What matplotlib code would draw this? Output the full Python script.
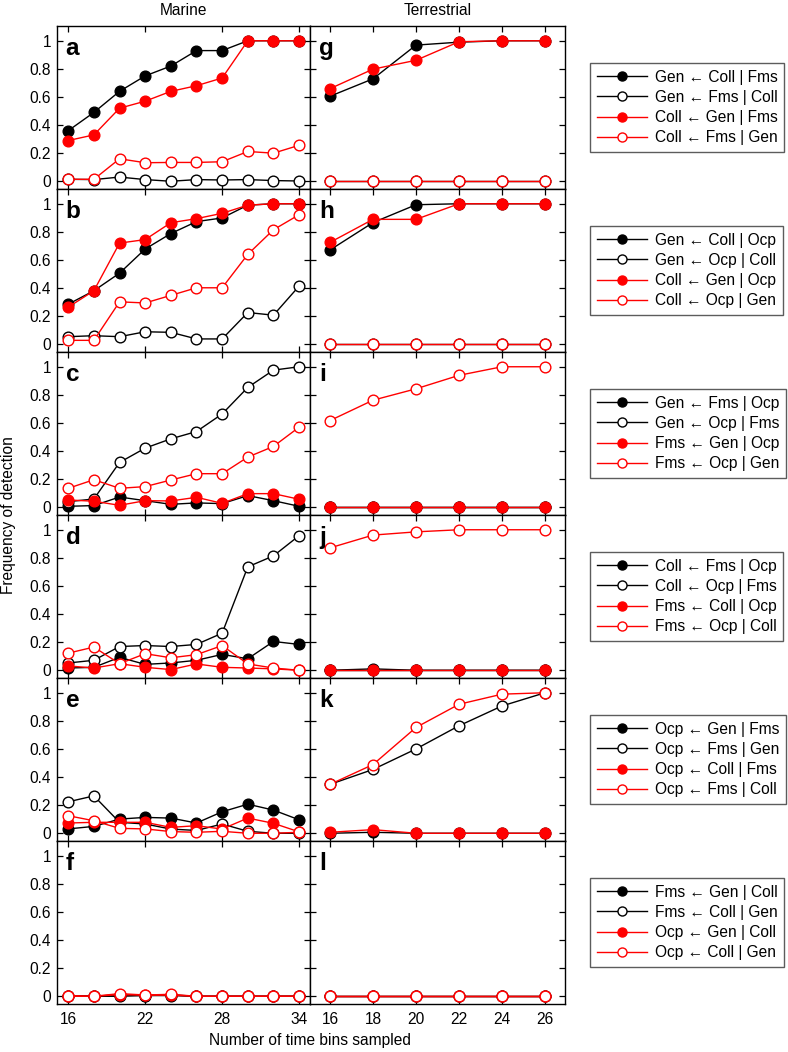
import matplotlib
matplotlib.use("Agg")
import matplotlib.pyplot as plt
from matplotlib.lines import Line2D

plt.rcParams['font.family'] = ['Liberation Sans', 'DejaVu Sans']

# ---------------- data ----------------
x_marine = [16, 18, 20, 22, 24, 26, 28, 30, 32, 34]
x_terr = [16, 18, 20, 22, 24, 26]
marine_xticks = [16, 22, 28, 34]
terr_xticks = [16, 18, 20, 22, 24, 26]
yticks = [0, 0.2, 0.4, 0.6, 0.8, 1]
ytick_labels = ["0", "0.2", "0.4", "0.6", "0.8", "1"]
panel_letters_marine = ["a", "b", "c", "d", "e", "f"]
panel_letters_terr = ["g", "h", "i", "j", "k", "l"]

legend_labels = [
    ["Gen \u2190 Coll | Fms", "Gen \u2190 Fms | Coll", "Coll \u2190 Gen | Fms", "Coll \u2190 Fms | Gen"],
    ["Gen \u2190 Coll | Ocp", "Gen \u2190 Ocp | Coll", "Coll \u2190 Gen | Ocp", "Coll \u2190 Ocp | Gen"],
    ["Gen \u2190 Fms | Ocp", "Gen \u2190 Ocp | Fms", "Fms \u2190 Gen | Ocp", "Fms \u2190 Ocp | Gen"],
    ["Coll \u2190 Fms | Ocp", "Coll \u2190 Ocp | Fms", "Fms \u2190 Coll | Ocp", "Fms \u2190 Ocp | Coll"],
    ["Ocp \u2190 Gen | Fms", "Ocp \u2190 Fms | Gen", "Ocp \u2190 Coll | Fms", "Ocp \u2190 Fms | Coll"],
    ["Fms \u2190 Gen | Coll", "Fms \u2190 Coll | Gen", "Ocp \u2190 Gen | Coll", "Ocp \u2190 Coll | Gen"],
]

# series order per panel: black filled, black open, red filled, red open
marine_a = [
    [0.36, 0.49, 0.64, 0.75, 0.82, 0.93, 0.93, 1.0, 1.0, 1.0],
    [0.014, 0.012, 0.03, 0.012, 0.0, 0.012, 0.009, 0.012, 0.005, 0.002],
    [0.29, 0.33, 0.52, 0.57, 0.64, 0.68, 0.735, 1.0, 1.0, 1.0],
    [0.014, 0.014, 0.16, 0.132, 0.134, 0.134, 0.139, 0.212, 0.2, 0.256],
]
marine_b = [
    [0.285, 0.381, 0.506, 0.678, 0.788, 0.873, 0.899, 0.99, 1.0, 1.0],
    [0.054, 0.061, 0.054, 0.089, 0.085, 0.038, 0.038, 0.226, 0.207, 0.414],
    [0.264, 0.381, 0.72, 0.745, 0.865, 0.894, 0.932, 0.99, 1.0, 1.0],
    [0.028, 0.028, 0.302, 0.294, 0.348, 0.402, 0.402, 0.64, 0.815, 0.922],
]
marine_c = [
    [0.007, 0.012, 0.073, 0.047, 0.021, 0.031, 0.026, 0.083, 0.047, 0.007],
    [0.04, 0.059, 0.319, 0.421, 0.487, 0.539, 0.664, 0.853, 0.976, 1.0],
    [0.052, 0.043, 0.014, 0.047, 0.045, 0.071, 0.028, 0.097, 0.097, 0.057],
    [0.135, 0.196, 0.135, 0.147, 0.194, 0.239, 0.239, 0.357, 0.433, 0.57],
]
marine_d = [
    [0.016, 0.021, 0.092, 0.042, 0.052, 0.071, 0.113, 0.082, 0.205, 0.184],
    [0.052, 0.071, 0.169, 0.176, 0.169, 0.184, 0.264, 0.736, 0.814, 0.958],
    [0.031, 0.016, 0.047, 0.021, 0.005, 0.045, 0.021, 0.016, 0.01, 0.0],
    [0.122, 0.165, 0.047, 0.118, 0.089, 0.111, 0.176, 0.045, 0.016, 0.0],
]
marine_e = [
    [0.031, 0.049, 0.101, 0.113, 0.108, 0.073, 0.153, 0.207, 0.165, 0.096],
    [0.224, 0.266, 0.078, 0.066, 0.03, 0.02, 0.066, 0.014, 0.0, 0.0],
    [0.073, 0.078, 0.078, 0.078, 0.042, 0.054, 0.03, 0.108, 0.071, 0.01],
    [0.125, 0.089, 0.035, 0.031, 0.012, 0.007, 0.014, 0.0, 0.0, 0.007],
]
marine_f = [
    [0.005, 0.0, 0.0, 0.005, 0.005, 0.0, 0.0, 0.0, 0.0, 0.0],
    [0.005, 0.0, 0.01, 0.005, 0.01, 0.0, 0.0, 0.0, 0.0, 0.0],
    [0.005, 0.0, 0.012, 0.008, 0.008, 0.0, 0.0, 0.0, 0.0, 0.0],
    [0.0, 0.0, 0.019, 0.009, 0.014, 0.0, 0.0, 0.0, 0.0, 0.0],
]

terr_g = [
    [0.605, 0.729, 0.969, 0.99, 1.0, 1.0],
    [0.0, 0.0, 0.0, 0.0, 0.0, 0.0],
    [0.659, 0.798, 0.861, 0.993, 1.0, 1.0],
    [0.0, 0.0, 0.0, 0.0, 0.0, 0.0],
]
terr_h = [
    [0.671, 0.866, 0.993, 1.0, 1.0, 1.0],
    [0.0, 0.0, 0.0, 0.0, 0.0, 0.0],
    [0.725, 0.889, 0.889, 1.0, 1.0, 1.0],
    [0.0, 0.0, 0.0, 0.0, 0.0, 0.0],
]
terr_i = [
    [0.0, 0.0, 0.0, 0.0, 0.0, 0.0],
    [0.0, 0.0, 0.0, 0.0, 0.0, 0.0],
    [0.0, 0.0, 0.0, 0.0, 0.0, 0.0],
    [0.617, 0.762, 0.843, 0.939, 1.0, 1.0],
]
terr_j = [
    [0.0, 0.01, 0.0, 0.0, 0.0, 0.0],
    [0.0, 0.0, 0.0, 0.0, 0.0, 0.0],
    [0.0, 0.0, 0.0, 0.0, 0.0, 0.0],
    [0.871, 0.962, 0.985, 1.0, 1.0, 1.0],
]
terr_k = [
    [0.0, 0.007, 0.0, 0.0, 0.0, 0.0],
    [0.348, 0.454, 0.6, 0.765, 0.906, 1.0],
    [0.007, 0.026, 0.0, 0.0, 0.0, 0.0],
    [0.348, 0.489, 0.753, 0.918, 0.99, 1.0],
]
terr_l = [
    [0.0, 0.0, 0.0, 0.0, 0.0, 0.0],
    [0.0, 0.0, 0.0, 0.0, 0.0, 0.0],
    [0.0, 0.0, 0.0, 0.0, 0.0, 0.0],
    [0.0, 0.0, 0.0, 0.0, 0.0, 0.0],
]

marine_panels = [marine_a, marine_b, marine_c, marine_d, marine_e, marine_f]
terr_panels = [terr_g, terr_h, terr_i, terr_j, terr_k, terr_l]

RED = "#ff0000"
styles = [
    dict(color="black", mfc="black", mec="black"),
    dict(color="black", mfc="white", mec="black"),
    dict(color=RED, mfc=RED, mec=RED),
    dict(color=RED, mfc="white", mec=RED),
]

# ---------------- layout ----------------
W, H = 788, 1052
fig = plt.figure(figsize=(W / 100, H / 100), dpi=100)

top_px, row_h = 26, 163
mx0, mx1 = 56.7, 310
tx0, tx1 = 310, 565
FS = 11.2


def style_axes(ax):
    ax.tick_params(direction="in", top=True, right=True, length=4, width=0.9,
                   labelsize=FS, pad=4)
    for s in ax.spines.values():
        s.set_linewidth(1.0)
    ax.set_ylim(-0.055, 1.105)
    ax.set_yticks(yticks)


for i in range(6):
    bottom = 1 - (top_px + row_h * (i + 1)) / H
    height = row_h / H
    axm = fig.add_axes([mx0 / W, bottom, (mx1 - mx0) / W, height])
    axt = fig.add_axes([tx0 / W, bottom, (tx1 - tx0) / W, height])

    handles = []
    for k, st in enumerate(styles):
        axm.plot(x_marine, marine_panels[i][k], marker="o", ms=7.7, lw=1.0,
                 mew=1.0, clip_on=False, **st)
        axt.plot(x_terr, terr_panels[i][k], marker="o", ms=7.7, lw=1.0,
                 mew=1.0, clip_on=False, **st)
        handles.append(Line2D([], [], marker="o", ms=6.5, lw=1.0, mew=1.0, **st))

    style_axes(axm)
    style_axes(axt)
    axm.set_xlim(15.1, 34.85)
    axt.set_xlim(15.07, 26.93)
    axm.set_xticks(marine_xticks)
    axt.set_xticks(terr_xticks)
    axm.set_yticklabels(ytick_labels)
    axt.set_yticklabels([])
    if i < 5:
        axm.set_xticklabels([])
        axt.set_xticklabels([])
    else:
        axm.tick_params(axis="x", pad=6)
        axt.tick_params(axis="x", pad=6)

    axm.text(0.035, 0.93, panel_letters_marine[i], transform=axm.transAxes,
             fontsize=17.5, fontweight="bold", va="top", ha="left")
    axt.text(0.035, 0.93, panel_letters_terr[i], transform=axt.transAxes,
             fontsize=17.5, fontweight="bold", va="top", ha="left")

    cy = 1 - (top_px + row_h * (i + 0.5)) / H
    leg = fig.legend(handles, legend_labels[i], loc="center left",
                     bbox_to_anchor=(590 / W, cy), bbox_transform=fig.transFigure,
                     fontsize=FS, handlelength=3.2, handletextpad=0.5,
                     labelspacing=0.33, borderpad=0.45, frameon=True,
                     fancybox=False, edgecolor="#333333", borderaxespad=0)
    leg.get_frame().set_linewidth(1.0)

    if i == 0:
        axm.set_title("Marine", fontsize=FS, pad=8)
        axt.set_title("Terrestrial", fontsize=FS, pad=8)

fig.text(310 / W, 1 - 1040 / H, "Number of time bins sampled", ha="center",
         va="center", fontsize=FS)
fig.text(9 / W, 1 - 515 / H, "Frequency of detection", ha="center",
         va="center", rotation=90, fontsize=FS)

fig.savefig("out.png", dpi=100)
